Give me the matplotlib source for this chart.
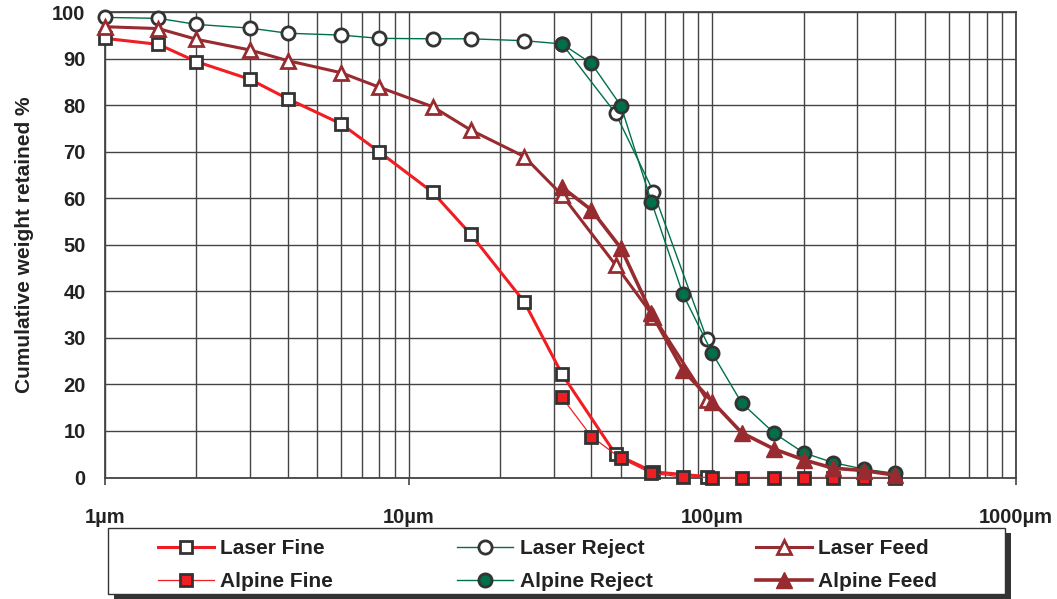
import matplotlib.pyplot as plt
from matplotlib.patches import Rectangle

plt.rcParams['font.family'] = ['Liberation Sans', 'DejaVu Sans']
plt.rcParams['font.weight'] = 'bold'

# Laser diffraction sizes (µm) and cumulative % retained
laser_size = [1, 1.5, 2, 3, 4, 6, 8, 12, 16, 24, 32, 48, 64, 96]
laser_fine = [94.4, 93.1, 89.4, 85.6, 81.4, 76.0, 70.0, 61.3, 52.3, 37.8, 22.2, 5.0, 1.2, 0.2]
laser_reject = [98.9, 98.7, 97.4, 96.6, 95.5, 95.1, 94.4, 94.3, 94.3, 93.9, 93.2, 78.3, 61.4, 29.7]
laser_feed = [96.9, 96.5, 94.2, 91.9, 89.6, 87.0, 83.9, 79.7, 74.7, 69.0, 60.7, 45.7, 34.6, 16.7]

# Alpine air-jet sieve sizes (µm)
alpine_size = [32, 40, 50, 63, 80, 100, 125, 160, 200, 250, 315, 400]
alpine_fine = [17.2, 8.8, 4.1, 0.9, 0.1, 0, 0, 0, 0, 0, 0, 0]
alpine_reject = [93.2, 89.0, 79.9, 59.3, 39.4, 26.7, 16.0, 9.5, 5.3, 3.2, 1.8, 0.9]
alpine_feed = [62.4, 57.5, 49.3, 35.3, 23.1, 16.3, 9.6, 6.1, 3.8, 2.0, 1.5, 0.5]

x_ticks = [1, 10, 100, 1000]
x_labels = ['1µm', '10µm', '100µm', '1000µm']
y_ticks = list(range(0, 101, 10))

RED = '#F01E23'
GREEN = '#007048'
DKRED = '#982B30'
EDGE = '#333333'
TXT = '#222222'

fig = plt.figure(figsize=(10.57, 5.99), dpi=100)
ax = fig.add_axes([105 / 1057, 1 - 477.5 / 599, 911 / 1057, 465.2 / 599])

series = [
    dict(x=laser_size, y=laser_fine, label='Laser Fine', color=RED, lw=2.2,
         marker='s', ms=9, mfc='white', mec=EDGE, mew=2),
    dict(x=laser_size, y=laser_reject, label='Laser Reject', color=GREEN, lw=1.0,
         marker='o', ms=9.5, mfc='white', mec=EDGE, mew=2),
    dict(x=laser_size, y=laser_feed, label='Laser Feed', color=DKRED, lw=2.2,
         marker='^', ms=10, mfc='white', mec=DKRED, mew=2),
    dict(x=alpine_size, y=alpine_fine, label='Alpine Fine', color=RED, lw=0.9,
         marker='s', ms=9, mfc=RED, mec=EDGE, mew=2),
    dict(x=alpine_size, y=alpine_reject, label='Alpine Reject', color=GREEN, lw=1.0,
         marker='o', ms=9.5, mfc=GREEN, mec=EDGE, mew=2),
    dict(x=alpine_size, y=alpine_feed, label='Alpine Feed', color=DKRED, lw=2.6,
         marker='^', ms=11, mfc=DKRED, mec=DKRED, mew=1),
]

handles = {}
for s in series:
    ln, = ax.plot(s['x'], s['y'], color=s['color'], lw=s['lw'], marker=s['marker'],
                  ms=s['ms'], mfc=s['mfc'], mec=s['mec'], mew=s['mew'],
                  clip_on=False, zorder=3)
    handles[s['label']] = ln

ax.set_xscale('log')
ax.set_xlim(1, 1000)
ax.set_ylim(0, 100)
ax.set_xticks(x_ticks)
ax.set_xticklabels(x_labels)
ax.set_yticks(y_ticks)
ax.grid(True, which='both', color='#444444', lw=1.0, zorder=0)
ax.tick_params(axis='x', which='major', length=5, width=1.2, color='#444444',
               pad=17, labelsize=14.5, labelcolor=TXT)
ax.tick_params(axis='x', which='minor', length=0)
ax.tick_params(axis='y', length=0, pad=14, labelsize=14.5, labelcolor=TXT)
for sp in ax.spines.values():
    sp.set_color('#444444')
    sp.set_linewidth(1.3)
ax.set_axisbelow(True)

ax.set_ylabel('Cumulative weight retained %', fontsize=15, fontweight='bold',
              color=TXT, labelpad=13)

# Legend frame with a dark drop shadow
W, H = 1057, 599
fig.patches.append(Rectangle((114 / W, 1 - 599 / H), 897 / W, 66 / H,
                             transform=fig.transFigure, facecolor='#333333',
                             edgecolor='none', zorder=1))
fig.patches.append(Rectangle((108 / W, 1 - 594 / H), 897 / W, 66 / H,
                             transform=fig.transFigure, facecolor='white',
                             edgecolor='#333333', lw=1.0, zorder=2))

columns = [('Laser Fine', 'Alpine Fine', 158),
           ('Laser Reject', 'Alpine Reject', 457),
           ('Laser Feed', 'Alpine Feed', 756)]
for top, bottom, px in columns:
    leg = fig.legend([handles[top], handles[bottom]], [top, bottom],
                     loc='upper left', bbox_to_anchor=(px / W, 1 - 539 / H),
                     frameon=False, fontsize=15, handlelength=2.7,
                     handletextpad=0.3, labelspacing=0.69, borderpad=0,
                     borderaxespad=0)
    for t in leg.get_texts():
        t.set_color(TXT)
    leg.set_zorder(3)

fig.savefig('out.png', dpi=100)
